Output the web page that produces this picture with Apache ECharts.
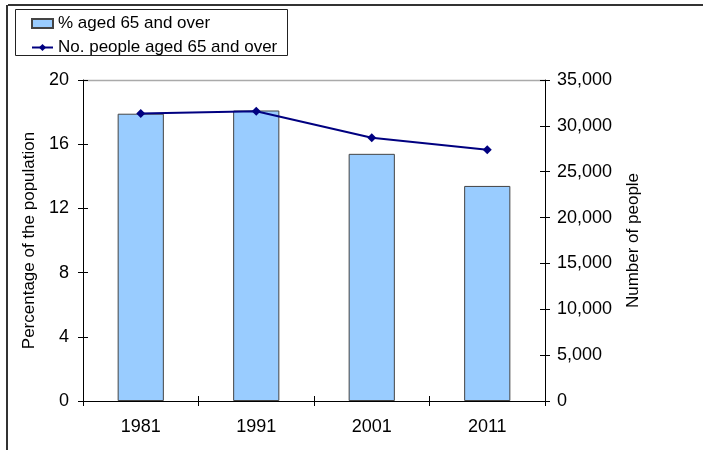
<!DOCTYPE html>
<html><head><meta charset="utf-8">
<script src="https://cdn.jsdelivr.net/npm/echarts@6/dist/echarts.min.js"></script>
<style>html,body{margin:0;padding:0;background:#fff}#c{width:703px;height:450px}</style>
</head><body><div id="c"></div>
<script>
const categories = ['1981', '1991', '2001', '2011'];
const pctAged65 = [17.9, 18.1, 15.4, 13.4];
const numAged65 = [31350, 31600, 28700, 27400];
const leftTicks = {min: 0, max: 20, interval: 4};
const rightTicks = {min: 0, max: 35000, interval: 5000};

const FONT = 'Liberation Sans, Arial, sans-serif';
const chart = echarts.init(document.getElementById('c'), null, {renderer: 'canvas'});
const fmt = v => v.toLocaleString('en-US');
const grid = {left: 83, right: 158, top: 80, bottom: 49, show: true, borderWidth: 0};
chart.setOption({
  animation: false,
  textStyle: {fontFamily: FONT},
  grid: grid,
  graphic: [
    {type: 'line', shape: {x1: 8, y1: 5, x2: 703, y2: 5}, style: {stroke: '#333', lineWidth: 2}},
    {type: 'line', shape: {x1: 7, y1: 5, x2: 7, y2: 450}, style: {stroke: '#333', lineWidth: 2}},
    {type: 'line', shape: {x1: 83, y1: 80.5, x2: 545, y2: 80.5}, style: {stroke: '#aaa', lineWidth: 1.5}},
    {type: 'rect', shape: {x: 15.5, y: 9.5, width: 272, height: 46}, style: {fill: 'none', stroke: '#222', lineWidth: 1}}
  ],
  legend: {
    left: 26, top: 10, orient: 'vertical', itemGap: 7, itemWidth: 21, itemHeight: 9,
    textStyle: {fontFamily: FONT, fontSize: 17, color: '#000'},
    data: [
      {name: '% aged 65 and over', icon: 'rect'},
      {name: 'No. people aged 65 and over'}
    ]
  },
  xAxis: [{
    type: 'category', data: categories, boundaryGap: true,
    axisLine: {lineStyle: {color: '#000', width: 1}},
    axisTick: {show: true, alignWithLabel: false, length: 5, lineStyle: {color: '#000'}},
    axisLabel: {color: '#000', fontSize: 18, fontFamily: FONT, margin: 17},
    splitLine: {show: false}
  }, {
    type: 'category', data: categories, boundaryGap: true, position: 'bottom',
    axisLine: {show: false},
    axisTick: {show: true, inside: true, length: 5, lineStyle: {color: '#000'}},
    axisLabel: {show: false}, splitLine: {show: false}
  }],
  yAxis: [{
    type: 'value', position: 'left', min: leftTicks.min, max: leftTicks.max, interval: leftTicks.interval,
    name: 'Percentage of the population', nameLocation: 'middle', nameGap: 53, nameRotate: 90,
    nameTextStyle: {color: '#000', fontSize: 17, fontFamily: FONT, verticalAlign: 'middle'},
    axisLine: {show: true, lineStyle: {color: '#000'}},
    axisTick: {show: true, length: 5, lineStyle: {color: '#000'}},
    axisLabel: {color: '#000', fontSize: 18, fontFamily: FONT, margin: 14},
    splitLine: {show: false}
  }, {
    type: 'value', position: 'right', min: rightTicks.min, max: rightTicks.max, interval: rightTicks.interval,
    name: 'Number of people', nameLocation: 'middle', nameGap: 88, nameRotate: 90,
    nameTextStyle: {color: '#000', fontSize: 17, fontFamily: FONT, verticalAlign: 'middle'},
    axisLine: {show: true, lineStyle: {color: '#000'}},
    axisTick: {show: true, length: 5, lineStyle: {color: '#000'}},
    axisLabel: {color: '#000', fontSize: 18, fontFamily: FONT, margin: 12, formatter: fmt},
    splitLine: {show: false}
  }, {
    type: 'value', position: 'left', min: leftTicks.min, max: leftTicks.max, interval: leftTicks.interval,
    axisLine: {show: false}, axisTick: {show: true, inside: true, length: 5, lineStyle: {color: '#000'}},
    axisLabel: {show: false}, splitLine: {show: false}
  }, {
    type: 'value', position: 'right', min: rightTicks.min, max: rightTicks.max, interval: rightTicks.interval,
    axisLine: {show: false}, axisTick: {show: true, inside: true, length: 5, lineStyle: {color: '#000'}},
    axisLabel: {show: false}, splitLine: {show: false}
  }],
  series: [{
    name: '% aged 65 and over', type: 'bar', data: pctAged65, yAxisIndex: 0, barWidth: '40%',
    itemStyle: {color: '#99CCFF', borderColor: '#444', borderWidth: 1}
  }, {
    name: 'No. people aged 65 and over', type: 'line', data: numAged65, yAxisIndex: 1,
    symbol: 'diamond', symbolSize: 9, showSymbol: true,
    lineStyle: {color: '#000080', width: 2}, itemStyle: {color: '#000080'}
  }]
});
</script></body></html>
